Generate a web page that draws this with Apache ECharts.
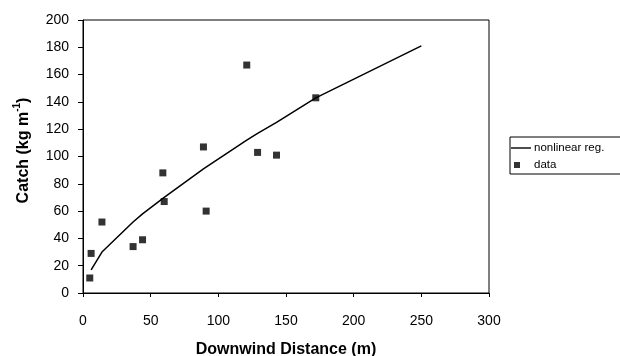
<!DOCTYPE html>
<html>
<head>
<meta charset="utf-8">
<script src="https://cdn.jsdelivr.net/npm/echarts@6/dist/echarts.min.js"></script>
<style>
  html, body { margin: 0; padding: 0; background: #fff; }
  #chart { width: 620px; height: 356px; }
</style>
</head>
<body>
<div id="chart"></div>
<script>
// measured data (downwind distance in m, catch in kg/m)
const dataX = [5, 6, 14, 37, 44, 59, 60, 89, 91, 121, 129, 143, 172];
const dataY = [11, 29, 52, 34, 39, 88, 67, 107, 60, 167, 103, 101, 143];

// fitted curve as drawn
const fitX = [6, 14, 37, 44, 60, 89, 121, 129, 143, 172, 250];
const fitY = [17, 30, 52, 58, 70, 91, 112, 117, 125, 143, 181];

const xTicks = { min: 0, max: 300, interval: 50 };
const yTicks = { min: 0, max: 200, interval: 20 };

const font = "'Liberation Sans', Arial, sans-serif";

const chart = echarts.init(document.getElementById("chart"), null, { renderer: "canvas" });

chart.setOption({
  animation: false,
  backgroundColor: "#fff",
  textStyle: { fontFamily: font, color: "#000" },
  grid: {
    left: 83, right: 131, top: 20, bottom: 63,
    outerBoundsMode: "none",
    show: true, borderColor: "#000", borderWidth: 1, backgroundColor: "#fff"
  },
  legend: {
    orient: "vertical",
    left: 510, top: 137,
    padding: [5, 40, 3, 1],
    itemWidth: 20, itemHeight: 10, itemGap: 5,
    borderColor: "#000", borderWidth: 1,
    textStyle: { fontFamily: font, fontSize: 11.5, color: "#000", padding: [0, 0, 0, -2] },
    data: [
      { name: "nonlinear reg.", icon: "path://M0,0 M20,10 M0,4.3 H20 V5.7 H0 Z" },
      { name: "data", icon: "path://M0,0 M20,10 M3,2 h6 v6 h-6 Z" }
    ]
  },
  xAxis: {
    type: "value",
    min: xTicks.min, max: xTicks.max, interval: xTicks.interval,
    name: "Downwind Distance (m)",
    nameLocation: "middle", nameGap: 49,
    nameTextStyle: { fontFamily: font, fontSize: 16, fontWeight: "bold", color: "#000" },
    axisLine: { lineStyle: { color: "#000", width: 1 } },
    axisTick: { show: true, length: 4, lineStyle: { color: "#000" } },
    axisLabel: { fontFamily: font, fontSize: 14, color: "#000", margin: 21 },
    splitLine: { show: false }
  },
  yAxis: {
    type: "value",
    min: yTicks.min, max: yTicks.max, interval: yTicks.interval,
    name: "Catch (kg m{sup|-1})",
    nameLocation: "middle", nameGap: 44,
    nameTextStyle: {
      fontFamily: font, fontSize: 16, fontWeight: "bold", color: "#000", lineHeight: 22,
      padding: [0, 0, 0, 12],
      rich: {
        sup: { fontFamily: font, fontSize: 10, fontWeight: "bold", color: "#000", lineHeight: 12, verticalAlign: "top" }
      }
    },
    axisLine: { show: true, lineStyle: { color: "#000", width: 1 } },
    axisTick: { show: true, length: 5, lineStyle: { color: "#000" } },
    axisLabel: { fontFamily: font, fontSize: 14, color: "#000", margin: 14 },
    splitLine: { show: false }
  },
  series: [
    {
      name: "nonlinear reg.",
      type: "line",
      symbol: "none",
      lineStyle: { color: "#000", width: 1.5 },
      itemStyle: { color: "#000" },
      data: fitX.map((x, i) => [x, fitY[i]])
    },
    {
      name: "data",
      type: "scatter",
      symbol: "rect",
      symbolSize: 7,
      itemStyle: { color: "#000" },
      data: dataX.map((x, i) => [x, dataY[i]])
    }
  ]
});
</script>
</body>
</html>
